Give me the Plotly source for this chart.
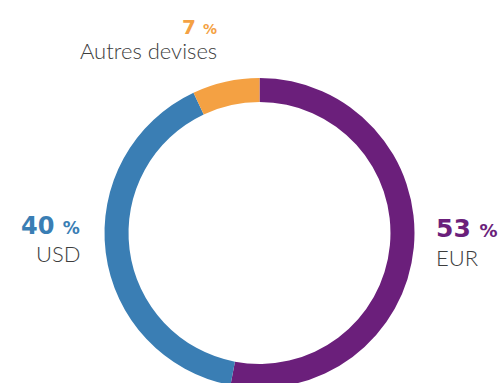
import plotly.graph_objects as go

# Currency breakdown
labels = ["EUR", "USD", "Autres devises"]
values = [53, 40, 7]
colors = ["#6B1F7B", "#3A7EB4", "#F4A143"]

W, H = 503, 390
NUM_FONT = "DejaVu Sans"
NAME_FONT = "Lato"
NAME_COLOR = "#3d3d3d"

fig = go.Figure(
    go.Pie(
        labels=labels,
        values=values,
        marker=dict(colors=colors, line=dict(width=0)),
        hole=0.845,
        sort=False,
        direction="clockwise",
        rotation=0,
        textinfo="none",
        hoverinfo="label+percent",
        showlegend=False,
        domain=dict(x=[104.5 / W, 414.5 / W], y=[(H - 388) / H, (H - 78) / H]),
    )
)


def px(x):
    return x / W


def py(y):
    return 1 - y / H


# label positions: (x, y of value line, y of name line, anchor)
label_pos = {
    "EUR": (434, 228, 257, "left"),
    "USD": (82, 226, 253, "right"),
    "Autres devises": (219, 27, 51, "right"),
}
value_size = {"EUR": 25, "USD": 24, "Autres devises": 20}
name_size = {"EUR": 22, "USD": 22, "Autres devises": 22}

annotations = []
for lab, val, col in zip(labels, values, colors):
    x, yv, yn, anchor = label_pos[lab]
    vs = value_size[lab]
    annotations.append(dict(
        x=px(x), y=py(yv), xref="paper", yref="paper",
        xanchor=anchor, yanchor="middle", showarrow=False,
        text=f"{val} <span style='font-size:{round(vs * 0.7)}px'>%</span>",
        font=dict(family=NUM_FONT, size=vs, color=col, weight="bold"),
    ))
    annotations.append(dict(
        x=px(x), y=py(yn), xref="paper", yref="paper",
        xanchor=anchor, yanchor="middle", showarrow=False,
        text=lab,
        font=dict(family=NAME_FONT, size=name_size[lab], color=NAME_COLOR, weight=300),
    ))

fig.update_layout(
    width=W, height=H,
    margin=dict(l=0, r=0, t=0, b=0),
    paper_bgcolor="white",
    plot_bgcolor="white",
    annotations=annotations,
)

fig.write_html("out.html")
